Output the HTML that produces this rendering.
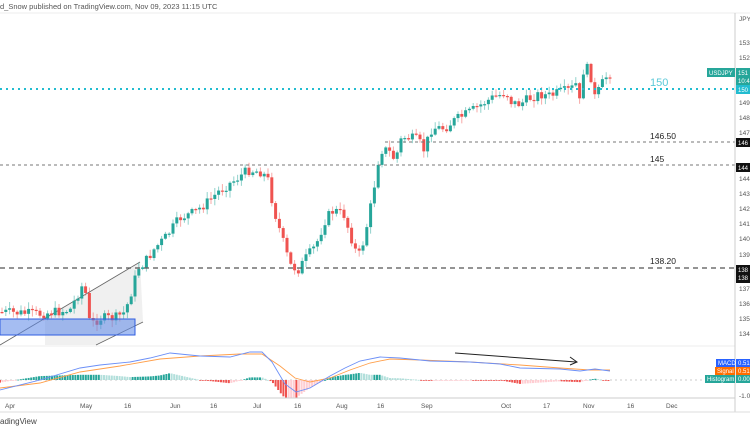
<!DOCTYPE html>
<html><head><meta charset="utf-8"><style>
body{margin:0;width:750px;height:430px;background:#fff;overflow:hidden;font-family:"Liberation Sans",sans-serif}
svg{display:block}
</style></head><body>
<svg id="s" width="750" height="430" xmlns="http://www.w3.org/2000/svg" font-family="Liberation Sans, sans-serif">
<rect width="750" height="430" fill="#fff"/>
<text x="0" y="9" font-size="7.5" fill="#555">d_Snow published on TradingView.com, Nov 09, 2023 11:15 UTC</text>
<line x1="0" y1="13" x2="750" y2="13" stroke="#eee"/>
<polygon points="45,318 140,262 143,322 96,345 45,345" fill="#999" fill-opacity="0.15"/>
<line x1="0" y1="345" x2="140" y2="262" stroke="#666" stroke-width="0.8"/>
<line x1="96" y1="345" x2="143" y2="322" stroke="#666" stroke-width="0.8"/>
<g id="c"></g>
<rect x="0" y="319" width="135" height="16" fill="#5b87e8" fill-opacity="0.55" stroke="#2f5de0" stroke-width="1"/>
<line x1="0" y1="89" x2="735" y2="89" stroke="#22bcd0" stroke-width="2" stroke-dasharray="2,4"/>
<text x="650" y="86" font-size="11" fill="#5cc9d8">150</text>
<line x1="385" y1="142" x2="735" y2="142" stroke="#777" stroke-width="1" stroke-dasharray="3,3"/>
<text x="650" y="139" font-size="8.5" fill="#222">146.50</text>
<line x1="0" y1="165" x2="735" y2="165" stroke="#777" stroke-width="1" stroke-dasharray="3,3"/>
<text x="650" y="162" font-size="8.5" fill="#222">145</text>
<line x1="0" y1="268" x2="735" y2="268" stroke="#555" stroke-width="1.2" stroke-dasharray="5,4"/>
<text x="650" y="264" font-size="8.5" fill="#222">138.20</text>
<line x1="0" y1="346" x2="735" y2="346" stroke="#eee"/>
<line x1="0" y1="380" x2="735" y2="380" stroke="#bbb" stroke-dasharray="2,3" stroke-width="0.7"/>
<g id="m"></g>
<line x1="455" y1="353" x2="576" y2="362" stroke="#222" stroke-width="1"/>
<polyline points="570,357 577,362 570,365" fill="none" stroke="#222" stroke-width="1"/>
<line x1="735" y1="13" x2="735" y2="412" stroke="#ccc"/>
<line x1="0" y1="398" x2="735" y2="398" stroke="#ccc"/>
<g font-size="6.5" fill="#555">
<text x="739" y="45">153</text><text x="739" y="60">152</text><text x="739" y="105">149</text><text x="739" y="120">148</text><text x="739" y="135">147</text><text x="739" y="181">144</text><text x="739" y="196">143</text><text x="739" y="211">142</text><text x="739" y="226">141</text><text x="739" y="241">140</text><text x="739" y="257">139</text><text x="739" y="291">137</text><text x="739" y="306">136</text><text x="739" y="321">135</text><text x="739" y="336">134</text><text x="739" y="398">-1.0</text>
<text x="739" y="21">JPY</text>
</g>
<rect x="707" y="68" width="28" height="9" fill="#26a69a"/><text x="709" y="75" font-size="6" fill="#fff">USDJPY</text>
<rect x="736" y="68" width="14" height="17" fill="#26a69a"/><text x="738" y="75" font-size="6" fill="#fff">151</text><text x="738" y="83" font-size="6" fill="#fff">10:4</text>
<rect x="736" y="85" width="14" height="9" fill="#22bcd0"/><text x="738" y="92" font-size="6" fill="#fff">150</text>
<rect x="736" y="138" width="14" height="9" fill="#111"/><text x="738" y="145" font-size="6" fill="#fff">146</text>
<rect x="736" y="163" width="14" height="9" fill="#111"/><text x="738" y="170" font-size="6" fill="#fff">144</text>
<rect x="736" y="265" width="14" height="18" fill="#111"/><text x="738" y="272" font-size="6" fill="#fff">138</text><text x="738" y="280" font-size="6" fill="#fff">138</text>
<rect x="716" y="359" width="19" height="8" fill="#2962ff"/><text x="718" y="365" font-size="6" fill="#fff">MACD</text>
<rect x="736" y="359" width="14" height="8" fill="#2962ff"/><text x="738" y="365" font-size="6" fill="#fff">0.51</text>
<rect x="715" y="367" width="20" height="8" fill="#ff6d00"/><text x="717" y="373" font-size="6" fill="#fff">Signal</text>
<rect x="736" y="367" width="14" height="8" fill="#ff6d00"/><text x="738" y="373" font-size="6" fill="#fff">0.51</text>
<rect x="705" y="375" width="30" height="8" fill="#26a69a"/><text x="707" y="381" font-size="6" fill="#fff">Histogram</text>
<rect x="736" y="375" width="14" height="8" fill="#26a69a"/><text x="738" y="381" font-size="6" fill="#fff">0.00</text>
<g font-size="6.5" fill="#555">
<text x="5" y="408">Apr</text><text x="80" y="408">May</text><text x="124" y="408">16</text><text x="170" y="408">Jun</text><text x="210" y="408">16</text><text x="253" y="408">Jul</text><text x="294" y="408">16</text><text x="336" y="408">Aug</text><text x="377" y="408">16</text><text x="421" y="408">Sep</text><text x="501" y="408">Oct</text><text x="543" y="408">17</text><text x="583" y="408">Nov</text><text x="627" y="408">16</text><text x="666" y="408">Dec</text>
</g>
<line x1="0" y1="412" x2="750" y2="412" stroke="#ddd"/>
<text x="0" y="424" font-size="8" fill="#444">adingView</text>
</svg>
<script>
(function(){
var NS="http://www.w3.org/2000/svg";
function el(p,t,a){var e=document.createElementNS(NS,t);for(var k in a)e.setAttribute(k,a[k]);p.appendChild(e);return e;}
var pts=[[0,312],[40,314],[70,310],[80,290],[84,282],[90,325],[100,318],[115,318],[125,312],[132,290],[138,268],[145,262],[155,248],[165,238],[180,218],[195,212],[210,200],[220,190],[235,180],[248,170],[262,172],[268,180],[274,210],[282,238],[290,265],[298,270],[306,258],[316,245],[326,218],[334,210],[344,215],[352,240],[358,258],[364,240],[372,200],[380,150],[388,150],[395,160],[402,137],[410,138],[418,140],[424,150],[432,128],[445,128],[455,120],[470,112],[482,104],[492,98],[500,95],[506,92],[512,103],[520,104],[530,98],[540,94],[550,96],[560,92],[570,90],[576,84],[580,104],[584,65],[590,72],[595,98],[600,88],[605,78],[610,73]];
function py(x){for(var i=1;i<pts.length;i++){if(x<=pts[i][0]){var a=pts[i-1],b=pts[i];return a[1]+(b[1]-a[1])*(x-a[0])/(b[0]-a[0]);}}return pts[pts.length-1][1];}
var seed=7;function rnd(){seed=(seed*9301+49297)%233280;return seed/233280;}
var c=document.getElementById("c");var prev=py(0);
for(var x=2;x<=610;x+=3.8){var cl=py(x)+(rnd()-0.5)*10;var op=prev;var up=cl<op;var col=up?"#26a69a":"#ef5350";
var t=Math.min(op,cl),b=Math.max(op,cl);var hi=t-rnd()*6-1,lo=b+rnd()*6+1;
el(c,"line",{x1:x,y1:hi,x2:x,y2:lo,stroke:col,"stroke-opacity":0.5,"stroke-width":1});
el(c,"rect",{x:x-1.5,y:t,width:3,height:Math.max(1.2,b-t),fill:col});prev=cl;}
var mb=[[0,390],[40,380],[80,368],[100,365],[130,362],[150,358],[170,353],[200,356],[230,357],[250,352],[262,352],[272,362],[285,384],[296,392],[310,388],[330,376],[345,368],[360,361],[380,357],[400,358],[430,361],[470,362],[500,364],[520,368],[560,369],[580,371],[595,369],[610,371]];
var ms=[[0,388],[40,383],[80,372],[120,366],[160,359],[200,356],[240,354],[262,354],[280,366],[295,378],[310,382],[330,378],[350,370],[370,363],[390,359],[420,360],[470,362],[520,365],[560,368],[590,370],[610,370]];
var m=document.getElementById("m");
function line(a,col){el(m,"polyline",{points:a.map(function(p){return p.join(",")}).join(" "),fill:"none",stroke:col,"stroke-width":0.9});}
function iy(a,x){for(var i=1;i<a.length;i++){if(x<=a[i][0]){var p=a[i-1],q=a[i];return p[1]+(q[1]-p[1])*(x-p[0])/(q[0]-p[0]);}}return a[a.length-1][1];}
var ph=0;
for(var x=0;x<=610;x+=2.6){var h=(iy(ms,x)-iy(mb,x))*1.3;var col=h>=0?(h>=ph?"#26a69a":"#b2dfdb"):(h<=ph?"#ef5350":"#ffcdd2");
el(m,"rect",{x:x-1,y:h>=0?380-h:380,width:2,height:Math.max(0.8,Math.abs(h)),fill:col});ph=h;}
line(ms,"#ff9f4a");line(mb,"#6b8ff7");
})();
</script>
</body></html>
